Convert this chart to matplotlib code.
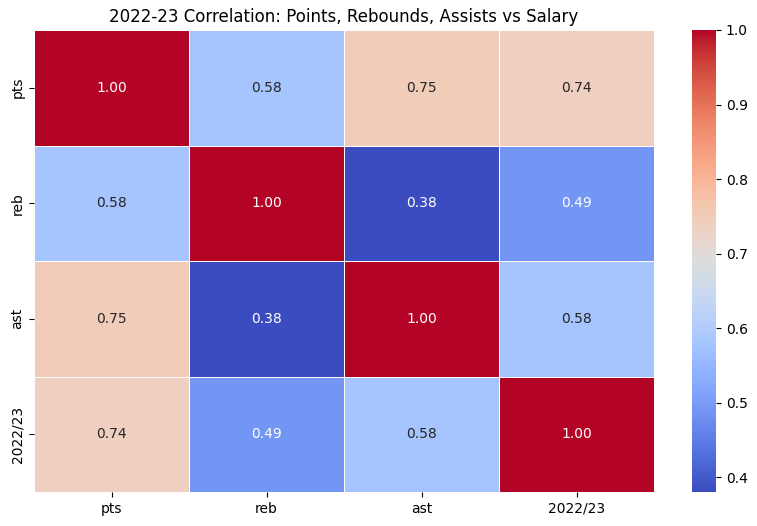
import numpy as np
import pandas as pd
import matplotlib
matplotlib.use('Agg')
import matplotlib.pyplot as plt
import seaborn as sns

labels = ['pts', 'reb', 'ast', '2022/23']
pts = [1.00, 0.58, 0.75, 0.74]
reb = [0.58, 1.00, 0.38, 0.49]
ast = [0.75, 0.38, 1.00, 0.58]
salary = [0.74, 0.49, 0.58, 1.00]

corr = pd.DataFrame([pts, reb, ast, salary], index=labels, columns=labels)

fig = plt.figure(figsize=(7.57, 5.26), dpi=100)
ax = fig.add_axes([34 / 757, 34 / 526, 620 / 757, 462 / 526])
cax = fig.add_axes([692 / 757, 34 / 526, 24 / 757, 462 / 526])

sns.heatmap(corr, annot=True, fmt='.2f', cmap='coolwarm', linewidths=0.5,
            linecolor='white', ax=ax, cbar_ax=cax)
ax.set_title('2022-23 Correlation: Points, Rebounds, Assists vs Salary')
cax.yaxis.set_ticks([0.4, 0.5, 0.6, 0.7, 0.8, 0.9, 1.0])

fig.savefig('out.png', dpi=100)
